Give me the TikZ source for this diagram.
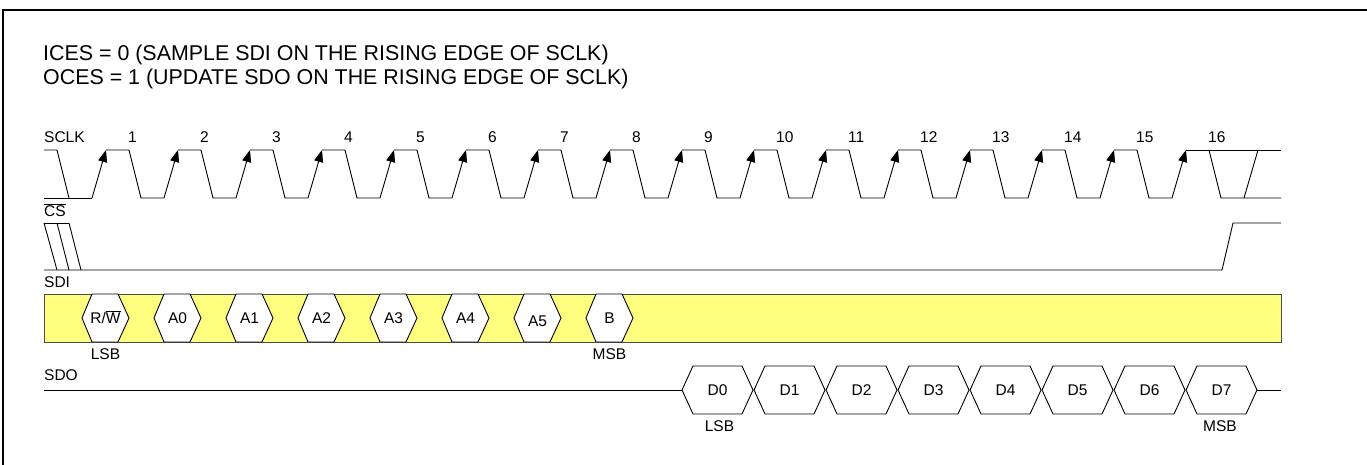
\documentclass[tikz,border=0pt]{standalone}
\usepackage{fontspec}
\setmainfont{Liberation Sans}
\usetikzlibrary{arrows.meta}
\definecolor{sdiyellow}{RGB}{255,255,128}
\newcommand\rwbar{R/$\overline{\mbox{W}}$}
\tikzset{
  sig/.style={line width=0.9pt, line join=miter},
  clkedge/.style={sig, -{Triangle[length=12pt,width=9pt]}},
  bitbox/.style={sig, fill=white},
  lbl/.style={inner sep=0pt, anchor=base west, font=\fontsize{15.5}{18}\selectfont},
  bitlbl/.style={inner sep=0pt, anchor=base, font=\fontsize{15.5}{18}\selectfont},
  hdr/.style={inner sep=0pt, anchor=base west, font=\fontsize{21.4}{24}\selectfont},
}
\begin{document}
\begin{tikzpicture}[x=1pt,y=-1pt]
\useasboundingbox (0,0) rectangle (1367,464);
% frame
\draw[line width=2.5pt] (2.8,470) -- (2.8,10.2) -- (1370,10.2);
% header
\node[hdr] (ices) at (43,60.7) {ICES = 0 (SAMPLE SDI ON THE RISING EDGE OF SCLK)};
\node[hdr] (oces) at (43,84.7) {OCES = 1 (UPDATE SDO ON THE RISING EDGE OF SCLK)};
% SCLK
\node[lbl] (sclk) at (44,142.5) {SCLK};
\draw[sig] (44,150) -- (57,150) -- (69,198);
\draw[sig] (44,198) -- (92,198);
\foreach \k in {1,...,16} {
  \pgfmathsetmacro\o{72*(\k-1)}
  \draw[clkedge] (92+\o,198) -- (106+\o,150);
  \node[lbl] (clk\k) at (128+\o,142.5) {\k};
}
\foreach \k in {1,...,15} {
  \pgfmathsetmacro\o{72*(\k-1)}
  \draw[sig] (106+\o,150) -- (129+\o,150) -- (141+\o,198) -- (164+\o,198);
}
\draw[sig] (1186,150) -- (1281,150);
\draw[sig] (1209,150) -- (1221,198) -- (1281,198);
\draw[sig] (1244,198) -- (1258,150);
% CS
\node[lbl] (cs) at (44,216.5) {$\overline{\mbox{CS}}$};
\draw[sig] (44,223) -- (69,223);
\draw[sig] (44,223) -- (57,270);
\draw[sig] (57,223) -- (69,270);
\draw[sig] (69,223) -- (81,270);
\draw[sig] (44,270) -- (1222,270) -- (1233,223) -- (1281,223);
% SDI
\node[lbl] (sdi) at (44,287.5) {SDI};
\draw[sig, draw=black!70, fill=sdiyellow] (44,294) rectangle (1281,342);
\foreach \b/\dy [count=\i from 0] in {\rwbar/0, A0/0, A1/0, A2/0, A3/0, A4/0, A5/3, B/0} {
  \pgfmathsetmacro\o{72*\i}
  \draw[bitbox] (82+\o,318) -- (92+\o,294) -- (118+\o,294) -- (129+\o,318) -- (118+\o,342) -- (92+\o,342) -- cycle;
  \node[bitlbl] (sdi\i) at (105.5+\o,323.5+\dy) {\b};
}
\node[bitlbl] (sdilsb) at (105.5,359.5) {LSB};
\node[bitlbl] (sdimsb) at (609.5,359.5) {MSB};
% SDO
\node[lbl] (sdo) at (44,380.5) {SDO};
\draw[sig] (44,390) -- (682,390);
\foreach \i in {0,...,7} {
  \pgfmathsetmacro\o{72*\i}
  \draw[bitbox] (682+\o,390) -- (693+\o,366) -- (742+\o,366) -- (753+\o,390) -- (742+\o,414) -- (693+\o,414) -- cycle;
  \node[bitlbl] (sdo\i) at (717.5+\o,395.5) {D\i};
}
\draw[sig] (1257,390) -- (1281,390);
\node[bitlbl] (sdolsb) at (719.5,431.5) {LSB};
\node[bitlbl] (sdomsb) at (1220,431.5) {MSB};
\end{tikzpicture}
\end{document}
